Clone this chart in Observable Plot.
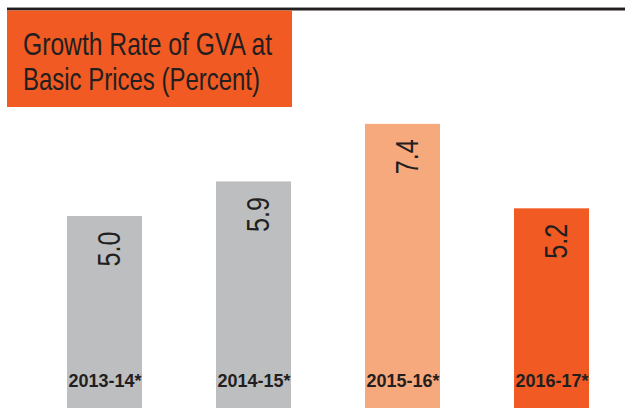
<!DOCTYPE html>
<html><head><meta charset="utf-8">
<script src="https://cdn.jsdelivr.net/npm/d3@7"></script>
<script src="https://cdn.jsdelivr.net/npm/@observablehq/plot@0.6"></script>
<style>
html,body{margin:0;padding:0;background:#fff;}
#wrap{position:relative;width:625px;height:416px;overflow:hidden;}
#chart{position:absolute;left:0;top:0;}
#head{position:absolute;left:0;top:0;}
#head text{font-family:"Liberation Sans Narrow","Liberation Sans",Arial,sans-serif;font-size:32px;fill:#231f20;}
</style></head><body>
<div id="wrap">
  <div id="chart"></div>
  <svg id="head" width="625" height="112">
    <rect x="7" y="7" width="618" height="1" fill="#9a9a9a"></rect>
    <rect x="7" y="8" width="618" height="2.5" fill="#231f20"></rect>
    <rect x="7" y="10.5" width="285" height="96.5" fill="#f15a22"></rect>
    <text x="23" y="55" textLength="249" lengthAdjust="spacingAndGlyphs">Growth Rate of GVA at</text>
    <text x="23" y="90" textLength="237" lengthAdjust="spacingAndGlyphs">Basic Prices (Percent)</text>
  </svg>
</div>
<script>
const years = ["2013-14*", "2014-15*", "2015-16*", "2016-17*"];
const growth = [5.0, 5.9, 7.4, 5.2];
const palette = ["#bcbec0", "#bcbec0", "#f7a97e", "#f15a22"];

const data = years.map((y, i) => ({year: y, value: growth[i]}));

const chart = Plot.plot({
  width: 625,
  height: 416,
  marginLeft: 65,
  marginRight: 34,
  marginTop: 24,
  marginBottom: 8,
  style: {background: "transparent", color: "#231f20"},
  x: {domain: years, paddingInner: 0.4933, paddingOuter: 0, axis: null},
  y: {domain: [0, 10], axis: null},
  color: {domain: years, range: palette},
  marks: [
    Plot.barY(data, {x: "year", y: "value", fill: "year"}),
    Plot.text(data, {
      x: "year", y: "value", text: d => d.value.toFixed(1),
      rotate: -90, textAnchor: "end", lineAnchor: "middle", dx: 5, dy: 15,
      fontFamily: "Liberation Sans Narrow, Liberation Sans, Arial, sans-serif", fontSize: 31, fill: "#231f20",
      className: "vlab"
    }),
    Plot.text(data, {
      x: "year", text: "year", frameAnchor: "bottom", lineAnchor: "bottom", dy: -22,
      fontFamily: "Liberation Sans, Arial, sans-serif", fontSize: 18, fontWeight: "bold",
      fill: "#231f20"
    })
  ]
});
d3.select(chart).selectAll(".vlab text")
  .attr("textLength", 35).attr("lengthAdjust", "spacingAndGlyphs");
document.getElementById("chart").appendChild(chart);
</script>
</body></html>
